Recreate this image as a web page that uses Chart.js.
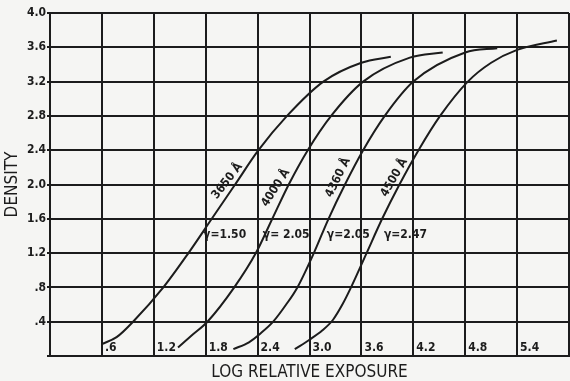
<!DOCTYPE html>
<html>
<head>
<meta charset="utf-8">
<script src="https://cdn.jsdelivr.net/npm/chart.js@4"></script>
<style>
  html, body { margin: 0; padding: 0; background: #f5f5f3; }
  canvas { display: block; }
</style>
</head>
<body>
<canvas id="hd" width="570" height="381"></canvas>
<script>
// Density vs log relative exposure curves for four wavelengths.
const xTickValues = [0, 0.6, 1.2, 1.8, 2.4, 3.0, 3.6, 4.2, 4.8, 5.4, 6.0];
const xTickLabels = ['', '.6', '1.2', '1.8', '2.4', '3.0', '3.6', '4.2', '4.8', '5.4', ''];
const yTickValues = [0, 0.4, 0.8, 1.2, 1.6, 2.0, 2.4, 2.8, 3.2, 3.6, 4.0];
const yTickLabels = ['', '.4', '.8', '1.2', '1.6', '2.0', '2.4', '2.8', '3.2', '3.6', '4.0'];

const wavelengths = ['3650 Å', '4000 Å', '4360 Å', '4500 Å'];
const gammas = ['γ=1.50', 'γ= 2.05', 'γ=2.05', 'γ=2.47'];

const curve1X = [0.6, 0.77, 0.96, 1.31, 1.6, 1.87, 2.14, 2.41, 2.74, 3.16, 3.6, 3.94];
const curve1Y = [0.14, 0.22, 0.4, 0.8, 1.2, 1.6, 2.0, 2.4, 2.8, 3.2, 3.42, 3.49];
const curve2X = [1.48, 1.65, 1.82, 2.13, 2.38, 2.57, 2.76, 2.98, 3.25, 3.62, 4.16, 4.54];
const curve2Y = [0.1, 0.25, 0.4, 0.8, 1.2, 1.6, 2.0, 2.4, 2.8, 3.2, 3.48, 3.54];
const curve3X = [2.12, 2.3, 2.43, 2.58, 2.73, 2.86, 3.05, 3.22, 3.41, 3.62, 3.87, 4.2, 4.8, 5.17];
const curve3Y = [0.08, 0.16, 0.26, 0.4, 0.6, 0.8, 1.2, 1.6, 2.0, 2.4, 2.8, 3.2, 3.54, 3.59];
const curve4X = [2.83, 3.0, 3.15, 3.27, 3.38, 3.48, 3.66, 3.84, 4.04, 4.26, 4.51, 4.83, 5.1, 5.4, 5.86];
const curve4Y = [0.08, 0.19, 0.3, 0.42, 0.6, 0.8, 1.2, 1.6, 2.0, 2.4, 2.8, 3.2, 3.42, 3.57, 3.68];

const ink = '#1c1c1c';
const narrow = '"DejaVu Sans Condensed", "Liberation Sans Narrow", "DejaVu Sans", sans-serif';

// label anchors in data units: [x, y, rotation in degrees]
const curveLabelSpots = [[2.05, 2.04, -52], [2.61, 1.96, -57], [3.33, 2.08, -64], [3.98, 2.08, -60]];
const gammaLabelSpots = [[1.77, 1.41], [2.46, 1.41], [3.2, 1.41], [3.86, 1.41]];

const pts = (xs, ys) => xs.map((x, i) => ({ x, y: ys[i] }));
const curves = [[curve1X, curve1Y], [curve2X, curve2Y], [curve3X, curve3Y], [curve4X, curve4Y]];

const textPlugin = {
  id: 'texts',
  afterDatasetsDraw(chart) {
    const { ctx, scales: { x, y }, chartArea } = chart;
    ctx.save();
    ctx.fillStyle = ink;
    // x tick labels sit inside the plot, right of each grid line
    ctx.font = 'bold 12px ' + narrow;
    ctx.textAlign = 'left';
    ctx.textBaseline = 'middle';
    xTickValues.forEach((v, i) => {
      if (!xTickLabels[i]) return;
      ctx.fillText(xTickLabels[i], x.getPixelForValue(v) + 3, chartArea.bottom - 8);
    });
    // wavelength labels along the curves
    wavelengths.forEach((t, i) => {
      const [lx, ly, rot] = curveLabelSpots[i];
      ctx.save();
      ctx.translate(x.getPixelForValue(lx), y.getPixelForValue(ly));
      ctx.rotate(rot * Math.PI / 180);
      ctx.textAlign = 'center';
      ctx.fillText(t, 0, 0);
      ctx.restore();
    });
    // gamma values
    gammas.forEach((t, i) => {
      const [gx, gy] = gammaLabelSpots[i];
      ctx.fillText(t, x.getPixelForValue(gx), y.getPixelForValue(gy));
    });
    ctx.restore();
  }
};

new Chart(document.getElementById('hd'), {
  type: 'line',
  data: {
    datasets: curves.map(([xs, ys], i) => ({
      label: wavelengths[i],
      data: pts(xs, ys),
      borderColor: ink,
      borderWidth: 2,
      pointRadius: 0,
      fill: false,
      cubicInterpolationMode: 'monotone'
    }))
  },
  options: {
    responsive: false,
    animation: false,
    devicePixelRatio: 1,
    layout: { padding: { top: 13, right: 1, left: 0, bottom: 0 } },
    plugins: { legend: { display: false }, tooltip: { enabled: false } },
    scales: {
      x: {
        type: 'linear',
        min: 0,
        max: 6,
        afterBuildTicks: s => { s.ticks = xTickValues.map(v => ({ value: v })); },
        afterFit: s => { s.height = 25; },
        ticks: { display: false },
        grid: { color: ink, lineWidth: 2, drawTicks: false },
        border: { color: ink, width: 2 },
        title: {
          display: true,
          text: 'LOG RELATIVE EXPOSURE',
          color: ink,
          font: { family: narrow, size: 17, lineHeight: 1 },
          padding: 0
        }
      },
      y: {
        type: 'linear',
        min: 0,
        max: 4,
        afterBuildTicks: s => { s.ticks = yTickValues.map(v => ({ value: v })); },
        afterFit: s => { s.width = 50; },
        ticks: {
          color: ink,
          padding: 1,
          font: { family: narrow, size: 12, weight: 'bold' },
          callback: (v, i) => yTickLabels[i]
        },
        grid: { color: ink, lineWidth: 2, tickLength: 3 },
        border: { color: ink, width: 2 },
        title: {
          display: true,
          text: 'DENSITY',
          color: ink,
          font: { family: narrow, size: 17, lineHeight: 1 },
          padding: { top: 4 }
        }
      }
    }
  },
  plugins: [textPlugin]
});
</script>
</body>
</html>
